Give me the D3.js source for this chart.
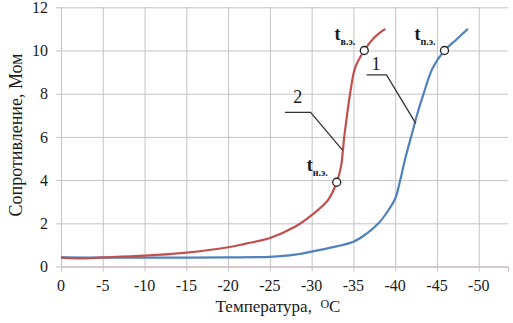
<!DOCTYPE html>
<html>
<head>
<meta charset="utf-8">
<script src="https://cdn.jsdelivr.net/npm/d3@7"></script>
</head>
<body style="margin:0; background:#fff">
<svg width="513" height="323"></svg>
<script>
// **** Data ****
var xTicks = [0, -5, -10, -15, -20, -25, -30, -35, -40, -45, -50];
var yTicks = [0, 2, 4, 6, 8, 10, 12];

// curve 2 (red)
var temp2 = [0, -2, -5, -10, -15, -20, -22, -25, -28, -30, -32, -33, -33.5, -33.9, -34.3, -34.6, -35.2, -36.3, -37.5, -38.8];
var res2  = [0.41, 0.38, 0.42, 0.5, 0.64, 0.89, 1.05, 1.32, 1.84, 2.38, 3.1, 3.9, 4.6, 6.0, 7.2, 8.0, 9.2, 10.0, 10.6, 11.0];

// curve 1 (blue)
var temp1 = [0, -5, -10, -15, -20, -25, -28, -30, -32, -35, -36.5, -38, -39, -40, -40.6, -41.2, -41.9, -42.6, -43.4, -44.5, -45.9, -47.3, -48.7];
var res1  = [0.42, 0.41, 0.41, 0.41, 0.42, 0.45, 0.55, 0.69, 0.85, 1.15, 1.5, 2.0, 2.5, 3.15, 4.0, 5.0, 6.0, 7.0, 8.0, 9.2, 10.0, 10.5, 11.0];

// marked points
var markTemp  = [-33, -36.3, -45.9];
var markRes   = [3.9, 10.0, 10.0];
var markLabel = ['н.э.', 'в.э.', 'п.э.'];

// **** Scales ****
var svg = d3.select('svg');
var x = d3.scaleLinear().domain([0, -53.5]).range([61, 508]);
var y = d3.scaleLinear().domain([0, 12]).range([266.5, 7.3]);

// **** Grid ****
svg.append('g')
    .attr('transform', 'translate(0,266.5)')
    .call(d3.axisBottom(x).tickValues(xTicks).tickSize(-(266.5 - 7.3)).tickFormat(''))
    .call(g => g.select('.domain').remove())
    .call(g => g.selectAll('line').attr('stroke', '#c4c4c4'));

svg.append('g')
    .attr('transform', 'translate(508,0)')
    .call(d3.axisLeft(y).tickValues(yTicks).tickSize(508 - 56).tickFormat(''))
    .call(g => g.select('.domain').remove())
    .call(g => g.selectAll('line').attr('stroke', '#c4c4c4'));

// small ticks below the axis
svg.append('g')
    .attr('transform', 'translate(0,266.5)')
    .call(d3.axisBottom(x).tickValues(xTicks).tickSize(5).tickFormat(''))
    .call(g => g.select('.domain').attr('stroke', '#d4b0b0'))
    .call(g => g.selectAll('line').attr('stroke', '#c4c4c4'));

// tick labels
svg.append('g').selectAll('text').data(xTicks).join('text')
    .attr('x', d => x(d)).attr('y', 291)
    .attr('text-anchor', 'middle')
    .attr('font-size', 16)
    .text(d => d === 0 ? '0' : '-' + Math.abs(d));

svg.append('g').selectAll('text').data(yTicks).join('text')
    .attr('x', 48).attr('y', d => y(d)).attr('dy', '0.35em')
    .attr('text-anchor', 'end')
    .attr('font-size', 16)
    .text(d => d);

// axis titles
var xt = svg.append('text')
    .attr('x', 278).attr('y', 312)
    .attr('text-anchor', 'middle')
    .attr('font-size', 17)
    .attr('xml:space', 'preserve');
xt.append('tspan').text('Температура,  ');
xt.append('tspan').attr('baseline-shift', '30%').attr('font-size', 12).text('O');
xt.append('tspan').text('C');

svg.append('text')
    .attr('transform', 'translate(22,135) rotate(-90)')
    .attr('text-anchor', 'middle')
    .attr('font-size', 18)
    .text('Сопротивление, Мом');

// **** Curves ****
var line = d3.line()
    .x(d => x(d[0]))
    .y(d => y(d[1]))
    .curve(d3.curveCatmullRom.alpha(0.5));

svg.append('path')
    .datum(d3.zip(temp1, res1))
    .attr('fill', 'none')
    .attr('stroke', '#4f81bd')
    .attr('stroke-width', 2.2)
    .attr('d', line);

svg.append('path')
    .datum(d3.zip(temp2, res2))
    .attr('fill', 'none')
    .attr('stroke', '#c0504d')
    .attr('stroke-width', 2.2)
    .attr('d', line);

// **** Leader lines ****
var leader1 = [[-36.57, 8.87], [-38.96, 8.87], [-42.46, 6.63]];
var leader2 = [[-26.8, 7.14], [-29.87, 7.14], [-33.7, 5.39]];
var straight = d3.line().x(d => x(d[0])).y(d => y(d[1]));
[leader1, leader2].forEach(function(pts) {
    svg.append('path')
        .attr('d', straight(pts))
        .attr('fill', 'none')
        .attr('stroke', '#333')
        .attr('stroke-width', 1.3);
});

svg.append('text').attr('x', x(-37.7)).attr('y', y(9.1))
    .attr('text-anchor', 'middle').attr('font-size', 18).text('1');
svg.append('text').attr('x', x(-28.35)).attr('y', y(7.57))
    .attr('text-anchor', 'middle').attr('font-size', 18).text('2');

// **** Marked points ****
var marks = d3.zip(markTemp, markRes, markLabel);
svg.append('g').selectAll('circle').data(marks).join('circle')
    .attr('cx', d => x(d[0])).attr('cy', d => y(d[1]))
    .attr('r', 4)
    .attr('fill', '#fff')
    .attr('stroke', '#222')
    .attr('stroke-width', 1.3);

var lbl = svg.append('g').selectAll('text').data(marks).join('text')
    .attr('x', d => x(d[0]) - 9).attr('y', d => y(d[1]) - 11)
    .attr('text-anchor', 'end')
    .attr('font-size', 18);
lbl.append('tspan').attr('font-weight', 'bold').text('t');
lbl.append('tspan').attr('dy', 5).attr('font-size', 10).attr('font-weight', 'bold').text(d => d[2]);

// serif everywhere, set on each text element
svg.selectAll('text')
    .style('font-family', '"Liberation Serif", serif')
    .style('fill', '#1a1a1a');
</script>
</body>
</html>
